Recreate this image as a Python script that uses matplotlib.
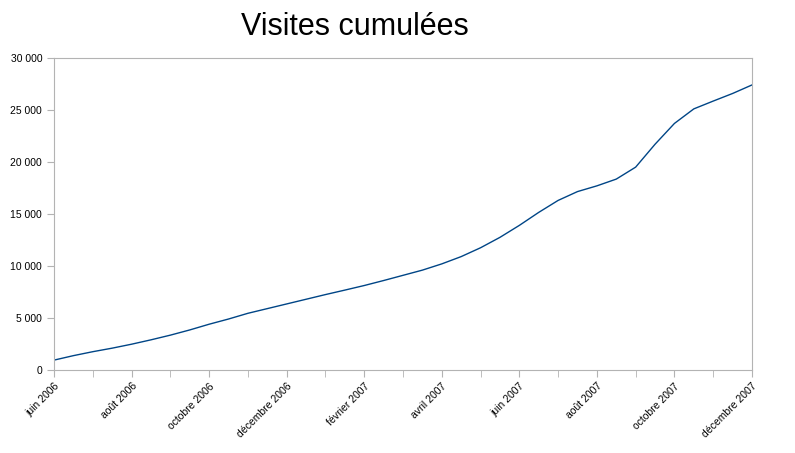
import numpy as np
import matplotlib
matplotlib.use("Agg")
import matplotlib.pyplot as plt
from matplotlib.ticker import FuncFormatter

plt.rcParams['font.family'] = ['Liberation Sans', 'DejaVu Sans']

# months since juin 2006 (half-month steps) and cumulative visits
months = [0, 0.5, 1, 1.5, 2, 2.5, 3, 3.5, 4, 4.5, 5, 5.5, 6, 6.5, 7, 7.5, 8, 8.5,
          9, 9.5, 10, 10.5, 11, 11.5, 12, 12.5, 13, 13.5, 14, 14.5, 15, 15.5,
          16, 16.5, 17, 17.5, 18]
visits = [950, 1380, 1760, 2100, 2480, 2900, 3350, 3850, 4400, 4900, 5450, 5900,
          6350, 6800, 7250, 7680, 8120, 8600, 9100, 9600, 10200, 10900, 11750,
          12750, 13900, 15150, 16300, 17150, 17700, 18350, 19500, 21700, 23700,
          25100, 25850, 26580, 27400]

tick_labels = ['juin 2006', 'août 2006', 'octobre 2006', 'décembre 2006',
               'février 2007', 'avril 2007', 'juin 2007', 'août 2007',
               'octobre 2007', 'décembre 2007']

fig = plt.figure(figsize=(7.95, 4.53), dpi=100)
ax = fig.add_axes([0.0679, 0.1832, 0.878, 0.689])
ax.plot(months, visits, color='#004586', lw=1.0)

ax.set_xlim(0, 18)
ax.set_ylim(0, 30000)
ax.set_yticks(np.arange(0, 30001, 5000))
ax.yaxis.set_major_formatter(FuncFormatter(lambda v, p: f"{int(v):,}".replace(',', ' ')))
ax.set_xticks(np.arange(0, 19, 2))
ax.set_xticks(np.arange(0, 19, 1), minor=True)
ax.set_xticklabels(tick_labels, rotation=45, ha='right', rotation_mode='anchor')

for s in ax.spines.values():
    s.set_color('#b3b3b3')
ax.tick_params(axis='both', which='both', color='#b3b3b3', length=5, labelsize=7.5)
ax.tick_params(axis='x', pad=3)

fig.text(0.447, 0.94, 'Visites cumulées', fontsize=22, ha='center', va='center')

fig.savefig('out.png', dpi=100)
